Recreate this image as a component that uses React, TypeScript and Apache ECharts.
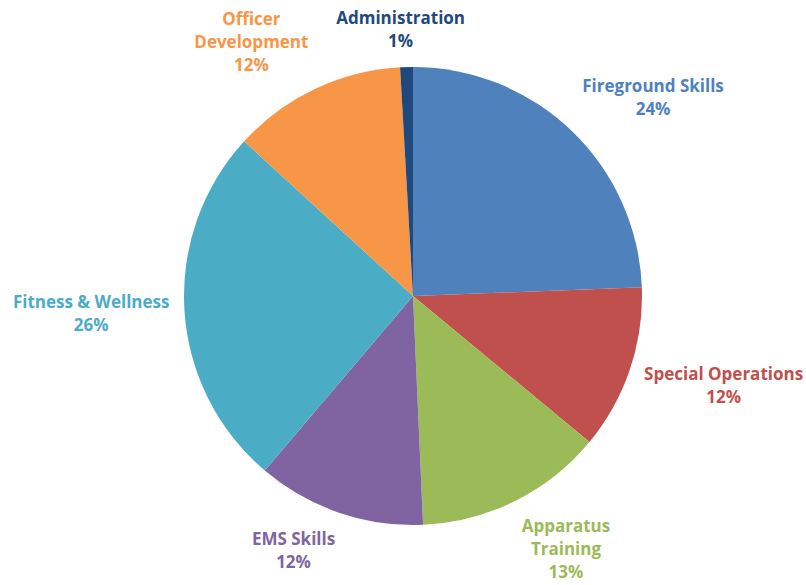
import React, { useEffect, useRef } from "react";
import * as echarts from "echarts";

const categories = [
  "Fireground Skills",
  "Special Operations",
  "Apparatus Training",
  "EMS Skills",
  "Fitness & Wellness",
  "Officer Development",
  "Administration",
];
const labelNames = [
  "Fireground Skills",
  "Special Operations",
  "Apparatus\nTraining",
  "EMS Skills",
  "Fitness & Wellness",
  "Officer\nDevelopment",
  "Administration",
];
const values = [24.4, 11.6, 13.3, 11.9, 25.6, 12.3, 0.9];
const colors = ["#4F81BD", "#C0504D", "#9BBB59", "#8064A2", "#4BACC6", "#F79646", "#1F497D"];

const CX = 413;
const CY = 296;
const RADIUS = 229;
const GAP = 15;

export default function App() {
  const ref = useRef<HTMLDivElement>(null);
  useEffect(() => {
    if (!ref.current) return;
    const chart = echarts.init(ref.current, undefined, { renderer: "svg" });
    const total = values.reduce((a, b) => a + b, 0);
    const mids: number[] = [];
    let acc = 0;
    values.forEach((v) => {
      const a = (v / total) * 360;
      mids.push(acc + a / 2);
      acc += a;
    });
    const clamp = (v: number) => Math.max(-1, Math.min(1, v));
    chart.setOption({
      animation: false,
      backgroundColor: "#ffffff",
      series: [
        {
          type: "pie",
          center: [CX, CY],
          radius: RADIUS,
          startAngle: 90,
          clockwise: true,
          avoidLabelOverlap: false,
          data: categories.map((name, i) => ({
            name,
            value: values[i],
            itemStyle: { color: colors[i] },
            label: { color: colors[i] },
          })),
          itemStyle: { borderWidth: 0 },
          label: {
            show: true,
            position: "inside",
            fontFamily: "Open Sans",
            fontWeight: "bold",
            fontSize: 17,
            lineHeight: 23,
            align: "center",
            formatter: (p: any) => `${labelNames[p.dataIndex]}\n${Math.round(p.percent)}%`,
          },
          labelLine: { show: false },
          labelLayout: (params: any) => {
            const i = params.dataIndex;
            const rad = (mids[i] * Math.PI) / 180;
            const ux = Math.sin(rad);
            const uy = -Math.cos(rad);
            const R = RADIUS + GAP;
            const w = params.labelRect.width;
            const h = params.labelRect.height;
            return {
              x: CX + R * ux + clamp(ux * 3) * (w / 2),
              y: CY + R * uy + clamp(uy * 1.5) * (h / 2),
              align: "center",
              verticalAlign: "middle",
            };
          },
        },
      ],
    });
    return () => chart.dispose();
  }, []);
  return (
    <div
      ref={ref}
      style={{ position: "fixed", left: 0, top: 0, width: 806, height: 585 }}
    />
  );
}
